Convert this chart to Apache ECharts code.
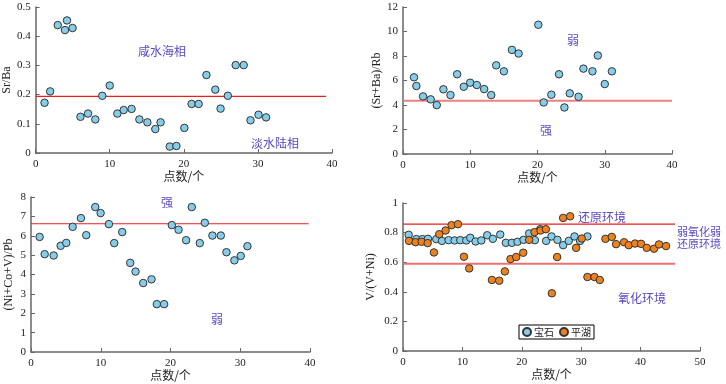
<!DOCTYPE html>
<html><head><meta charset="utf-8">
<script src="https://cdn.jsdelivr.net/npm/echarts@6/dist/echarts.min.js"></script>
<style>html,body{margin:0;padding:0;background:#fff}#c{width:726px;height:384px}</style>
</head><body><div id="c"></div>
<script>
// Panel 1: Sr/Ba
const p1x = [1.2,1.96,2.98,3.96,4.23,4.98,6.05,7.07,8.05,8.99,10.0,11.03,11.88,12.95,14.0,15.08,16.15,16.86,18.1,19.0,20.07,21.05,22.0,23.05,24.25,24.96,25.94,27.0,28.08,29.0,30.08,31.1];
const p1y = [0.172,0.211,0.438,0.421,0.454,0.428,0.124,0.135,0.115,0.196,0.231,0.135,0.147,0.151,0.115,0.105,0.082,0.105,0.022,0.024,0.086,0.168,0.168,0.267,0.217,0.152,0.196,0.301,0.301,0.112,0.131,0.122];
const p1line = [[0,0.194],[39.2,0.194]];
// Panel 2: (Sr+Ba)/Rb
const p2x = [1.64,1.99,2.98,4.12,5.02,6.01,7.06,8.05,9.04,9.99,10.98,12.07,13.12,13.86,15.0,16.2,17.19,20.12,20.92,22.06,23.2,24.0,24.8,26.1,26.83,28.17,28.97,30.0,31.06];
const p2y = [6.26,5.55,4.70,4.46,3.99,5.28,4.81,6.51,5.49,5.82,5.63,5.30,4.81,7.24,6.75,8.50,8.20,10.55,4.21,4.84,6.51,3.80,4.95,4.67,6.97,6.75,8.04,5.71,6.75];
const p2line = [[0,4.35],[40,4.35]];
// Panel 3: (Ni+Co+V)/Pb
const p3x = [1.24,1.96,3.25,4.25,5.06,5.97,7.16,7.92,9.21,9.98,11.17,11.93,13.08,14.22,14.99,16.09,17.28,18.04,19.09,20.19,21.15,22.24,23.05,24.2,24.92,26.01,27.21,28.02,29.16,30.07,31.03];
const p3y = [5.94,5.05,4.98,5.48,5.63,6.46,6.91,6.03,7.48,7.17,6.60,5.62,6.19,4.60,4.15,3.56,3.75,2.47,2.47,6.55,6.31,5.77,7.48,5.62,6.67,6.01,6.01,5.15,4.73,4.96,5.46];
const p3line = [[0,6.62],[39.8,6.62]];
// Panel 4: V/(V+Ni)
const p4bx = [0.95,2.24,3.25,4.2,5.6,6.56,7.68,8.69,9.64,10.65,11.32,12.22,13.18,14.18,15.13,16.37,17.32,18.33,19.28,20.29,21.24,22.2,23.1,24.1,25.0,26.0,26.96,27.9,28.87,29.82,31.05];
const p4by = [0.785,0.756,0.756,0.758,0.756,0.744,0.749,0.747,0.749,0.747,0.765,0.740,0.747,0.782,0.758,0.787,0.731,0.731,0.738,0.751,0.794,0.749,0.823,0.744,0.774,0.751,0.715,0.744,0.774,0.744,0.774];
const p4ox = [1.01,2.13,3.14,4.15,5.21,6.11,7.17,8.18,9.25,10.26,11.15,14.97,16.2,17.15,18.1,19.06,20.24,21.24,22.14,23.15,24.05,25.06,25.95,26.96,28.14,29.15,30.1,31.05,32.23,33.13,34.08,35.15,35.87,37.22,38.0,39.07,40.08,41.03,42.26,43.1,44.28];
const p4oy = [0.744,0.735,0.738,0.729,0.666,0.789,0.814,0.850,0.857,0.637,0.558,0.480,0.475,0.538,0.621,0.635,0.664,0.751,0.803,0.814,0.823,0.390,0.635,0.899,0.910,0.697,0.760,0.500,0.500,0.480,0.758,0.771,0.722,0.735,0.715,0.726,0.724,0.697,0.691,0.720,0.709];
const p4lineHi = [[0,0.857],[45.8,0.857]];
const p4lineLo = [[0,0.590],[45.8,0.590]];
const seriesNames = ['宝石','平湖'];

const zip = (xs, ys) => xs.map((x, i) => [x, ys[i]]);
const serif = 'Liberation Serif';
const cjk = 'Noto Sans CJK SC';
const axisCol = '#666';
const txtCol = '#5a48c6';

function xAxis(gi, max, nameTop) {
  return {
    gridIndex: gi, type: 'value', min: 0, max: max, interval: 10,
    name: '点数/个', nameLocation: 'middle', nameGap: nameTop,
    nameTextStyle: {fontFamily: cjk, fontSize: 12, color: '#222'},
    axisLine: {lineStyle: {color: axisCol, width: 1.5}},
    axisTick: {inside: true, length: 4, lineStyle: {color: axisCol}},
    axisLabel: {fontFamily: serif, fontSize: 11, color: '#222', margin: 6},
    splitLine: {show: false}
  };
}
function yAxis(gi, max, interval, name, gap, fmt) {
  return {
    gridIndex: gi, type: 'value', min: 0, max: max, interval: interval,
    name: name, nameLocation: 'middle', nameGap: gap, nameRotate: 90,
    nameTextStyle: {fontFamily: serif, fontSize: 12, color: '#222'},
    axisLine: {show: true, lineStyle: {color: axisCol, width: 1.5}},
    axisTick: {show: true, inside: true, length: 4, lineStyle: {color: axisCol}},
    axisLabel: {fontFamily: serif, fontSize: 11, color: '#222', margin: 5, formatter: fmt},
    splitLine: {show: false}
  };
}
function scatter(name, gi, data, color) {
  return {
    name: name, type: 'scatter', xAxisIndex: gi, yAxisIndex: gi, data: data,
    symbol: 'circle', symbolSize: 7.5,
    itemStyle: {color: color, borderColor: '#333', borderWidth: 1, opacity: 1}
  };
}
function hline(gi, data, color, width) {
  return {
    type: 'line', xAxisIndex: gi, yAxisIndex: gi, data: data, symbol: 'none',
    lineStyle: {color: color, width: width}, silent: true, z: 1
  };
}
function label(text, x, y, size) {
  return {type: 'text', x: x, y: y, style: {text: text, fill: txtCol, font: (size || 12) + 'px "' + cjk + '"', textAlign: 'center', textVerticalAlign: 'middle'}};
}

const blue = '#86cdea';
const orange = '#f0821e';

const chart = echarts.init(document.getElementById('c'), null, {renderer: 'canvas'});
chart.setOption({
  animation: false,
  grid: [
    {left: 32, top: 7, width: 300, height: 146},
    {left: 403, top: 7, width: 269, height: 147},
    {left: 31, top: 197, width: 279, height: 155},
    {left: 403, top: 203, width: 297, height: 148}
  ],
  xAxis: [xAxis(0, 40, 16), xAxis(1, 40, 16), xAxis(2, 40, 16), xAxis(3, 50, 16)],
  yAxis: [
    yAxis(0, 0.5, 0.1, 'Sr/Ba', 20),
    yAxis(1, 12, 2, '(Sr+Ba)/Rb', 20),
    yAxis(2, 8, 1, '(Ni+Co+V)/Pb', 16),
    yAxis(3, 1, 0.2, 'V/(V+Ni)', 26, v => v === 0 ? '0' : (v === 1 ? '1' : v.toFixed(1)))
  ],
  legend: {
    data: seriesNames, left: 519, top: 325, orient: 'horizontal',
    itemWidth: 8, itemHeight: 8, itemGap: 5, padding: [2, 3, 2, 3],
    borderColor: '#000', borderWidth: 1, borderRadius: 0,
    textStyle: {fontFamily: cjk, fontSize: 10, color: '#222', padding: [0, 0, 0, -2]}
  },
  series: [
    hline(0, p1line, '#ee1c1c', 1.2),
    scatter('s1', 0, zip(p1x, p1y), blue),
    hline(1, p2line, '#f08080', 2),
    scatter('s2', 1, zip(p2x, p2y), blue),
    hline(2, p3line, '#ee1c1c', 1.2),
    scatter('s3', 2, zip(p3x, p3y), blue),
    hline(3, p4lineHi, '#ee1c1c', 1.2),
    hline(3, p4lineLo, '#f07070', 2),
    scatter(seriesNames[0], 3, zip(p4bx, p4by), blue),
    scatter(seriesNames[1], 3, zip(p4ox, p4oy), orange)
  ],
  graphic: [
    label('咸水海相', 162, 51),
    label('淡水陆相', 275, 143),
    label('弱', 573, 40),
    label('强', 546, 130),
    label('强', 167, 202),
    label('弱', 217, 319),
    label('还原环境', 602, 217),
    label('弱氧化弱', 699, 232, 11),
    label('还原环境', 699, 244, 11),
    label('氧化环境', 642, 298)
  ]
});
</script></body></html>
